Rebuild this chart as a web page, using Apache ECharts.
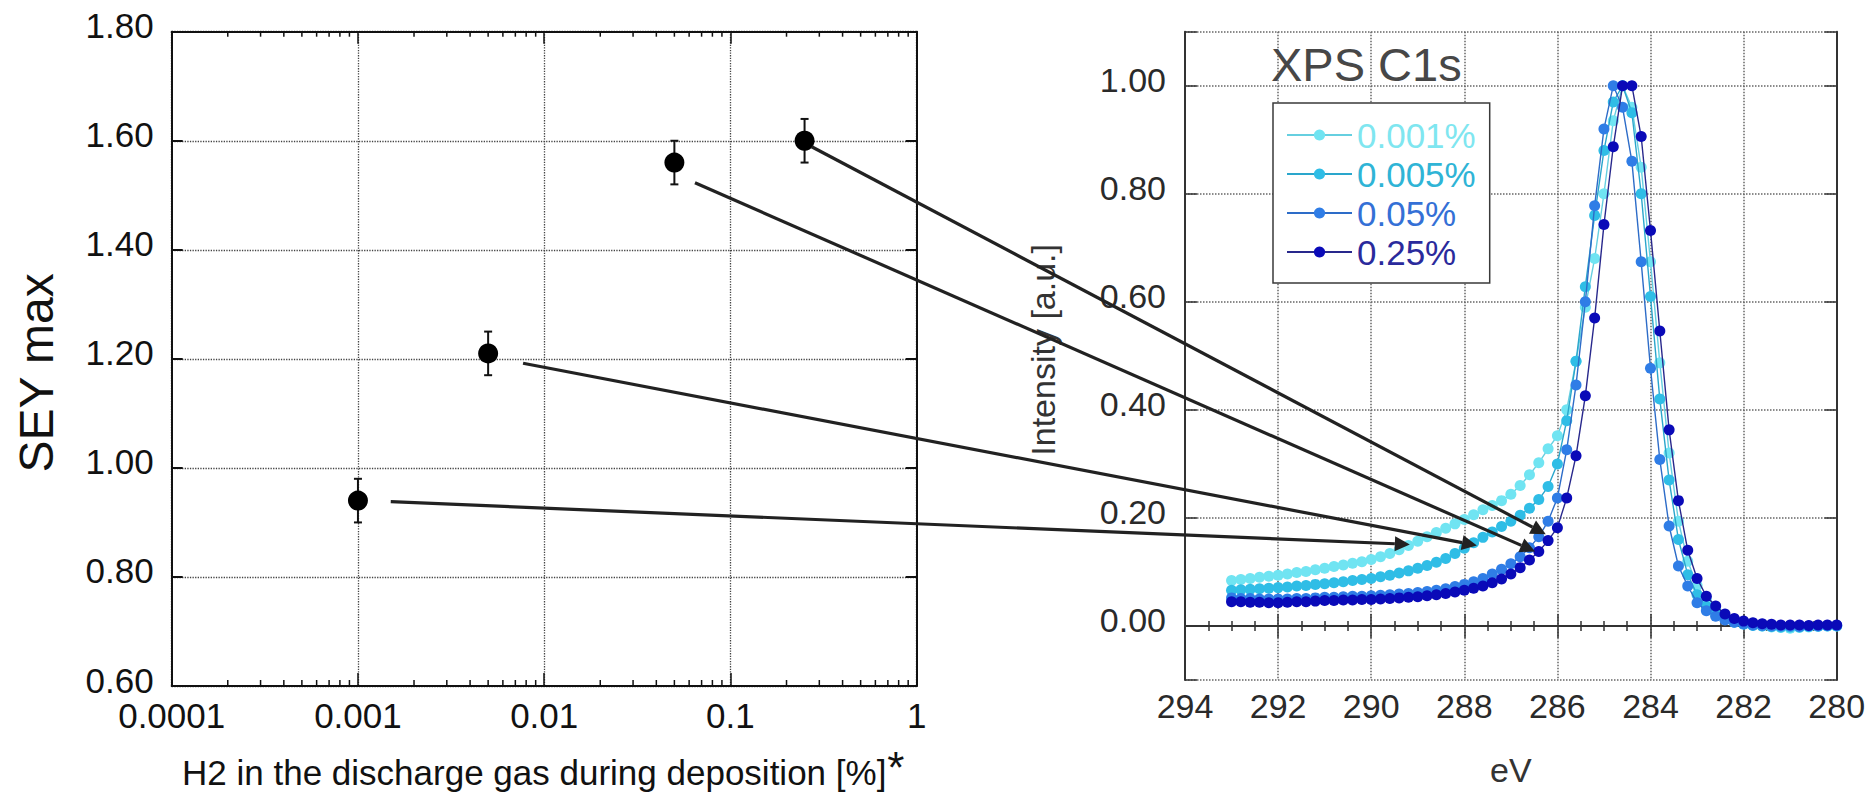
<!DOCTYPE html>
<html>
<head>
<meta charset="utf-8">
<script src="https://cdn.jsdelivr.net/npm/echarts@6/dist/echarts.min.js"></script>
<style>
  html, body { margin: 0; padding: 0; background: #ffffff; }
  #chart { width: 1870px; height: 795px; }
</style>
</head>
<body>
<div id="chart"></div>
<script>
// ---- SEY max versus H2 content of the discharge gas ----
const h2Percent = [0.001, 0.005, 0.05, 0.25];
const seyMax    = [0.94, 1.21, 1.56, 1.60];
const seyErr    = [0.04, 0.04, 0.04, 0.04];
const seyTicks  = [0.6, 1.8];            // y range of the SEY panel
const h2Range   = [0.0001, 1];           // x range of the SEY panel (log)
const minorFactors = [2, 3, 4, 5, 6, 7, 8, 9];
const h2Title   = 'H2 in the discharge gas during deposition [%]';
const h2Footnote = '*';

// ---- XPS C1s spectra (binding energy in eV) ----
const bindingEnergy = [
  293.0, 292.8, 292.6, 292.4, 292.2, 292.0, 291.8, 291.6, 291.4, 291.2,
  291.0, 290.8, 290.6, 290.4, 290.2, 290.0, 289.8, 289.6, 289.4, 289.2,
  289.0, 288.8, 288.6, 288.4, 288.2, 288.0, 287.8, 287.6, 287.4, 287.2,
  287.0, 286.8, 286.6, 286.4, 286.2, 286.0, 285.8, 285.6, 285.4, 285.2,
  285.0, 284.8, 284.6, 284.4, 284.2, 284.0, 283.8, 283.6, 283.4, 283.2,
  283.0, 282.8, 282.6, 282.4, 282.2, 282.0, 281.8, 281.6, 281.4, 281.2,
  281.0, 280.8, 280.6, 280.4, 280.2, 280.0
];
const xps0001 = [
  0.084, 0.086, 0.088, 0.090, 0.092, 0.094, 0.096, 0.099, 0.101, 0.104,
  0.107, 0.110, 0.113, 0.116, 0.119, 0.123, 0.128, 0.134, 0.141, 0.149,
  0.157, 0.165, 0.173, 0.181, 0.189, 0.197, 0.206, 0.215, 0.223, 0.232,
  0.244, 0.260, 0.280, 0.302, 0.328, 0.352, 0.400, 0.490, 0.590, 0.680,
  0.800, 0.935, 1.000, 0.960, 0.849, 0.674, 0.487, 0.320, 0.194, 0.120,
  0.075, 0.048, 0.030, 0.018, 0.010, 0.005, 0.002, 0.000, -0.002, -0.003,
  -0.004, -0.003, -0.002, -0.001, 0.000, 0.000
];
const xps0005 = [
  0.066, 0.067, 0.068, 0.069, 0.070, 0.071, 0.072, 0.074, 0.075, 0.077,
  0.078, 0.080, 0.082, 0.084, 0.086, 0.088, 0.091, 0.094, 0.098, 0.102,
  0.107, 0.112, 0.118, 0.125, 0.134, 0.144, 0.154, 0.164, 0.174, 0.184,
  0.194, 0.205, 0.218, 0.234, 0.258, 0.300, 0.380, 0.490, 0.628, 0.760,
  0.880, 0.970, 1.000, 0.950, 0.800, 0.610, 0.420, 0.270, 0.160, 0.095,
  0.058, 0.036, 0.022, 0.013, 0.007, 0.003, 0.001, 0.000, -0.001, -0.002,
  -0.002, -0.002, -0.001, 0.000, 0.000, 0.000
];
const xps005 = [
  0.052, 0.051, 0.051, 0.050, 0.050, 0.050, 0.050, 0.051, 0.051, 0.052,
  0.053, 0.053, 0.054, 0.055, 0.055, 0.056, 0.057, 0.058, 0.059, 0.060,
  0.062, 0.064, 0.066, 0.069, 0.073, 0.077, 0.082, 0.088, 0.096, 0.105,
  0.115, 0.128, 0.145, 0.165, 0.194, 0.237, 0.326, 0.446, 0.600, 0.778,
  0.920, 1.000, 0.960, 0.860, 0.674, 0.477, 0.308, 0.185, 0.111, 0.074,
  0.043, 0.028, 0.018, 0.011, 0.007, 0.004, 0.002, 0.001, 0.000, 0.000,
  0.000, -0.001, 0.000, 0.000, 0.001, 0.001
];
const xps025 = [
  0.045, 0.045, 0.044, 0.044, 0.043, 0.043, 0.044, 0.045, 0.045, 0.046,
  0.047, 0.047, 0.048, 0.048, 0.049, 0.049, 0.050, 0.051, 0.052, 0.053,
  0.054, 0.056, 0.058, 0.060, 0.063, 0.066, 0.070, 0.074, 0.080, 0.087,
  0.096, 0.108, 0.122, 0.138, 0.158, 0.182, 0.237, 0.315, 0.426, 0.570,
  0.743, 0.887, 1.000, 1.000, 0.906, 0.732, 0.546, 0.363, 0.232, 0.140,
  0.088, 0.055, 0.037, 0.022, 0.014, 0.009, 0.006, 0.004, 0.003, 0.002,
  0.002, 0.002, 0.001, 0.002, 0.002, 0.002
];
const xpsNames  = ['0.001%', '0.005%', '0.05%', '0.25%'];
const xpsValues = [xps0001, xps0005, xps005, xps025];
const xpsDot    = ['#70e4f2', '#2fbde6', '#2f7de6', '#0a0ab8'];
const xpsLine   = ['#66cfe0', '#2aa6cc', '#2d6cc8', '#28288c'];
const xpsText   = ['#7fe6f0', '#2fb4d6', '#3470d6', '#2a2a9c'];

// Arrows linking each SEY point to its spectrum (start in SEY panel, tip in XPS panel)
const arrowFromH2  = [0.0015, 0.0077, 0.0645, 0.273];
const arrowFromSey = [0.938, 1.192, 1.523, 1.589];
const arrowToEv    = [289.17, 287.73, 286.48, 286.25];
const arrowToInt   = [0.151, 0.149, 0.138, 0.170];

const FONT = '"Liberation Sans", Arial, sans-serif';
const INK = '#111111';
const INK2 = '#333333';

// minor tick positions of the log axis (2..9 within each decade)
const minorTickValues = [];
for (let e = Math.log10(h2Range[0]); e < Math.log10(h2Range[1]); e++) {
  minorFactors.forEach(f => minorTickValues.push(f * Math.pow(10, e)));
}

const logLabel = v => String(parseFloat(Number(v).toPrecision(6)));

const chart = echarts.init(document.getElementById('chart'), null, { renderer: 'svg' });

const leftAxisLine = { lineStyle: { color: INK, width: 2 } };
const rightAxisLine = { lineStyle: { color: INK2, width: 2 } };

const option = {
  animation: false,
  backgroundColor: '#ffffff',
  textStyle: { fontFamily: FONT },
  title: {
    text: 'XPS C1s',
    left: 1271, top: 41, padding: 0,
    textStyle: { fontFamily: FONT, fontSize: 47, lineHeight: 47, fontWeight: 'normal', color: '#474747' }
  },
  legend: {
    orient: 'vertical',
    left: 1273, top: 103,
    padding: [14, 14, 13, 13],
    itemGap: 3, itemWidth: 65, itemHeight: 14,
    backgroundColor: '#ffffff', borderColor: '#3a3a3a', borderWidth: 1.5,
    selectedMode: false,
    textStyle: { fontFamily: FONT, fontSize: 35, lineHeight: 36 },
    data: xpsNames.map((n, i) => ({ name: n, textStyle: { color: xpsText[i] } }))
  },
  grid: [
    { left: 171.7, top: 31.7, right: 953.3, bottom: 109, outerBoundsMode: 'none' },
    { left: 1185, top: 31.7, right: 33.3, bottom: 115, outerBoundsMode: 'none' }
  ],
  xAxis: [
    {
      type: 'log', logBase: 10, gridIndex: 0, position: 'bottom',
      min: h2Range[0], max: h2Range[1],
      axisLine: leftAxisLine,
      axisTick: { inside: true, length: 13, lineStyle: { color: INK, width: 1.5 } },
      axisLabel: { formatter: logLabel, fontFamily: FONT, fontSize: 35, color: INK, margin: 12 },
      splitLine: { show: true, lineStyle: { type: 'dotted', color: '#444', width: 1.3 } },
      name: h2Title,
      nameLocation: 'middle', nameGap: 66,
      nameTextStyle: { fontFamily: FONT, fontSize: 35, lineHeight: 40, color: INK, padding: [0, 20, 0, 0] }
    },
    {
      type: 'log', logBase: 10, gridIndex: 0, position: 'top',
      min: h2Range[0], max: h2Range[1],
      axisLine: leftAxisLine,
      axisTick: { inside: true, length: 12, lineStyle: { color: INK, width: 1.5 } },
      axisLabel: { show: false },
      splitLine: { show: false }
    },
    {
      type: 'value', gridIndex: 1, position: 'bottom', inverse: true,
      min: 280, max: 294, interval: 2,
      axisLine: rightAxisLine,
      axisTick: { inside: true, length: 12, lineStyle: { color: INK2, width: 1.5 } },
      minorTick: { show: true, splitNumber: 4, length: 5, lineStyle: { color: INK2, width: 1.5 } },
      axisLabel: { fontFamily: FONT, fontSize: 34, color: '#2a2a2a', margin: 9 },
      splitLine: { show: true, lineStyle: { type: 'dotted', color: '#666', width: 1.5 } },
      name: 'eV', nameLocation: 'middle', nameGap: 73,
      nameTextStyle: { fontFamily: FONT, fontSize: 34, color: INK2 }
    },
    {
      type: 'value', gridIndex: 1, position: 'top', inverse: true,
      min: 280, max: 294, interval: 2,
      axisLine: rightAxisLine,
      axisTick: { inside: true, length: 12, lineStyle: { color: INK2, width: 1.5 } },
      minorTick: { show: true, splitNumber: 4, length: 5, lineStyle: { color: INK2, width: 1.5 } },
      axisLabel: { show: false },
      splitLine: { show: false }
    }
  ],
  yAxis: [
    {
      type: 'value', gridIndex: 0, position: 'left',
      min: seyTicks[0], max: seyTicks[1], interval: 0.2,
      axisLine: leftAxisLine,
      axisTick: { inside: true, length: 11, lineStyle: { color: INK, width: 2 } },
      axisLabel: {
        formatter: v => v.toFixed(2), fontFamily: FONT, fontSize: 35, color: INK, margin: 18,
        verticalAlign: 'bottom', lineHeight: 12
      },
      splitLine: { show: true, lineStyle: { type: 'dotted', color: '#444', width: 1.3 } },
      name: 'SEY max', nameLocation: 'middle', nameGap: 111,
      nameTextStyle: { fontFamily: FONT, fontSize: 48, color: INK, padding: [0, 28, 0, 0] }
    },
    {
      type: 'value', gridIndex: 0, position: 'right',
      min: seyTicks[0], max: seyTicks[1], interval: 0.2,
      axisLine: leftAxisLine,
      axisTick: { inside: true, length: 11, lineStyle: { color: INK, width: 2 } },
      axisLabel: { show: false },
      splitLine: { show: false }
    },
    {
      type: 'value', gridIndex: 1, position: 'left',
      min: -0.1, max: 1.1, splitNumber: 6,
      axisLine: rightAxisLine,
      axisTick: { inside: true, length: 12, lineStyle: { color: INK2, width: 1.5 } },
      axisLabel: {
        formatter: v => (v < -0.001 || v > 1.001) ? '' : v.toFixed(2),
        fontFamily: FONT, fontSize: 34, color: '#2a2a2a', margin: 19,
        verticalAlign: 'bottom', lineHeight: 12
      },
      splitLine: { show: true, lineStyle: { type: 'dotted', color: '#666', width: 1.5 } },
      name: 'Intensity [a.u.]', nameLocation: 'middle', nameGap: 125,
      nameTextStyle: { fontFamily: FONT, fontSize: 34, color: INK2, padding: [0, 0, 0, 12] }
    },
    {
      type: 'value', gridIndex: 1, position: 'right',
      min: -0.1, max: 1.1, splitNumber: 6,
      axisLine: rightAxisLine,
      axisTick: { inside: true, length: 12, lineStyle: { color: INK2, width: 1.5 } },
      axisLabel: { show: false },
      splitLine: { show: false }
    }
  ],
  series: []
};

// minor ticks of the log axis, bottom and top
option.series.push({
  type: 'custom', xAxisIndex: 0, yAxisIndex: 0, silent: true, z: 3,
  data: minorTickValues.map(v => [v, seyTicks[0]]),
  renderItem: (params, api) => {
    const v = api.value(0);
    const b = api.coord([v, seyTicks[0]]);
    const t = api.coord([v, seyTicks[1]]);
    return {
      type: 'group',
      children: [
        { type: 'line', shape: { x1: b[0], y1: b[1], x2: b[0], y2: b[1] - 6 }, style: { stroke: INK, lineWidth: 1.5 } },
        { type: 'line', shape: { x1: t[0], y1: t[1], x2: t[0], y2: t[1] + 5 }, style: { stroke: INK, lineWidth: 1.5 } }
      ]
    };
  }
});

// error bars of the SEY points
option.series.push({
  type: 'custom', xAxisIndex: 0, yAxisIndex: 0, silent: true, z: 4,
  data: h2Percent.map((x, i) => [x, seyMax[i], seyErr[i]]),
  renderItem: (params, api) => {
    const x = api.value(0), y = api.value(1), e = api.value(2);
    const top = api.coord([x, y + e]);
    const bot = api.coord([x, y - e]);
    const cap = 4;
    const st = { stroke: INK, lineWidth: 2 };
    return {
      type: 'group',
      children: [
        { type: 'line', shape: { x1: top[0], y1: top[1], x2: bot[0], y2: bot[1] }, style: st },
        { type: 'line', shape: { x1: top[0] - cap, y1: top[1], x2: top[0] + cap, y2: top[1] }, style: st },
        { type: 'line', shape: { x1: bot[0] - cap, y1: bot[1], x2: bot[0] + cap, y2: bot[1] }, style: st }
      ]
    };
  }
});

// SEY points
option.series.push({
  type: 'scatter', xAxisIndex: 0, yAxisIndex: 0, z: 5,
  symbol: 'circle', symbolSize: 20,
  itemStyle: { color: '#000000', opacity: 1 },
  emphasis: { disabled: true },
  data: h2Percent.map((x, i) => [x, seyMax[i]])
});

// XPS spectra
xpsNames.forEach((name, k) => {
  option.series.push({
    name: name, type: 'line', xAxisIndex: 2, yAxisIndex: 2, z: 3 + k,
    symbol: 'circle', symbolSize: 11, showSymbol: true, showAllSymbol: true,
    itemStyle: { color: xpsDot[k], opacity: 1 },
    lineStyle: { color: xpsLine[k], width: 1.4 },
    emphasis: { disabled: true },
    data: bindingEnergy.map((e, i) => [e, xpsValues[k][i]])
  });
});

chart.setOption(option);

// arrows across both panels, placed through each panel's own axes
const arrowColor = '#222222';
const headLen = 15, headHalf = 7.5;
const extraGraphics = [];
arrowFromH2.forEach((h, i) => {
  const p0 = chart.convertToPixel({ xAxisIndex: 0, yAxisIndex: 0 }, [h, arrowFromSey[i]]);
  const p1 = chart.convertToPixel({ xAxisIndex: 2, yAxisIndex: 2 }, [arrowToEv[i], arrowToInt[i]]);
  const dx = p1[0] - p0[0], dy = p1[1] - p0[1];
  const len = Math.sqrt(dx * dx + dy * dy);
  const ux = dx / len, uy = dy / len;
  const bx = p1[0] - ux * headLen, by = p1[1] - uy * headLen;
  extraGraphics.push({
    type: 'line', silent: true, z: 100,
    shape: { x1: p0[0], y1: p0[1], x2: bx, y2: by },
    style: { stroke: arrowColor, lineWidth: 3.2 }
  });
  extraGraphics.push({
    type: 'polygon', silent: true, z: 100,
    shape: { points: [[p1[0], p1[1]], [bx - uy * headHalf, by + ux * headHalf], [bx + uy * headHalf, by - ux * headHalf]] },
    style: { fill: arrowColor }
  });
});

// superscript footnote mark after the x-axis title of the SEY panel
const measureCtx = document.createElement('canvas').getContext('2d');
measureCtx.font = '35px ' + FONT;
const titleWidth = measureCtx.measureText(h2Title).width;
const axisLeftPx = chart.convertToPixel({ xAxisIndex: 0 }, h2Range[0]);
const axisRightPx = chart.convertToPixel({ xAxisIndex: 0 }, h2Range[1]);
const titleRightPx = (axisLeftPx + axisRightPx) / 2 - 10 + titleWidth / 2;
extraGraphics.push({
  type: 'text', silent: true, z: 100,
  x: titleRightPx + 1, y: 767,
  style: { text: h2Footnote, font: '44px ' + FONT, fill: INK, textAlign: 'left', textVerticalAlign: 'middle' }
});

chart.setOption({ graphic: extraGraphics });
</script>
</body>
</html>
